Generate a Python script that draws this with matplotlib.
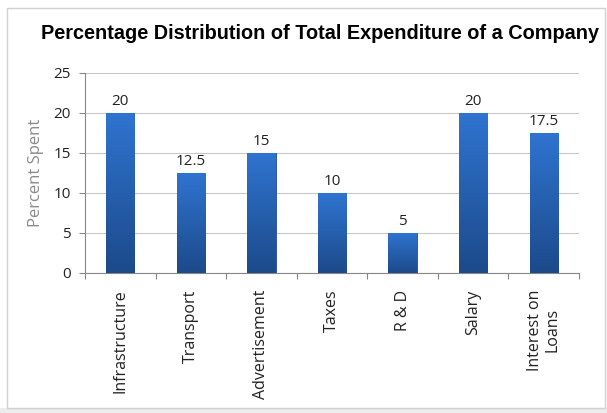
import matplotlib.pyplot as plt
import numpy as np
from matplotlib.patches import Rectangle
from matplotlib.colors import LinearSegmentedColormap

categories = ["Infrastructure", "Transport", "Advertisement", "Taxes", "R & D", "Salary", "Interest on\nLoans"]
percent = [20, 12.5, 15, 10, 5, 20, 17.5]
value_labels = ["20", "12.5", "15", "10", "5", "20", "17.5"]
y_ticks = [0, 5, 10, 15, 20, 25]

fig = plt.figure(figsize=(6.07, 4.13), dpi=100)
fig.patch.set_facecolor("white")

# outer chart frame + grey strip under it
fig.patches.append(Rectangle((0, 0), 1, 5 / 413, transform=fig.transFigure,
                             facecolor="#ececec", edgecolor="none"))
fig.patches.append(Rectangle((7 / 607, 5 / 413), 598 / 607, 400 / 413, transform=fig.transFigure,
                             fill=False, edgecolor="#d0d0d0", linewidth=1.0))

ax = fig.add_axes([85 / 607, 140 / 413, 494 / 607, 200 / 413])

x = np.arange(len(categories))
bars = ax.bar(x, percent, width=0.4, color="#2a63b0", edgecolor="#1d4f8f", linewidth=0.6, zorder=3)

# vertical gradient inside bars
grad = np.linspace(0, 1, 256).reshape(-1, 1)
cmap = LinearSegmentedColormap.from_list("b", ["#1c4a8a", "#2f74d0"])
for b in bars:
    im = ax.imshow(grad, cmap=cmap, aspect="auto", origin="lower",
                   extent=[b.get_x(), b.get_x() + b.get_width(), 0, b.get_height()], zorder=3)
    im.set_clip_path(b)

for xi, v, lab in zip(x, percent, value_labels):
    ax.annotate(lab, (xi, v), xytext=(0, 3), textcoords="offset points", ha="center", va="bottom",
                fontsize=11, color="#222222", family="Open Sans")

ax.set_xlim(-0.5, len(categories) - 0.5)
ax.set_ylim(0, 25)
ax.set_yticks(y_ticks)
ax.set_yticklabels([str(t) for t in y_ticks], fontsize=11, color="#222222", family="Open Sans")
ax.grid(True, axis="y", color="#c8c8c8", linewidth=0.8, zorder=0)

ax.set_xticks(np.arange(len(categories) + 1) - 0.5)
ax.set_xticklabels([])
ax.tick_params(axis="x", length=4, color="#888888")
ax.tick_params(axis="y", length=4, color="#888888", pad=6)
for xi, c in zip(x, categories):
    ax.annotate(c, (xi, 0), xytext=(0, -12), textcoords="offset points", rotation=90,
                ha="center", va="top", fontsize=11.5, color="#222222", family="Open Sans",
                multialignment="center")

for s in ["top", "right"]:
    ax.spines[s].set_visible(False)
ax.spines["left"].set_color("#888888")
ax.spines["bottom"].set_color("#888888")

ax.set_ylabel("Percent Spent", fontsize=12, color="#8a8a8a", family="Open Sans", labelpad=7)

fig.text(0.527, 0.92, "Percentage Distribution of Total Expenditure of a Company",
         ha="center", va="center", fontsize=14.3, fontweight="bold", family="Liberation Sans")

fig.savefig("out.png", dpi=100)
